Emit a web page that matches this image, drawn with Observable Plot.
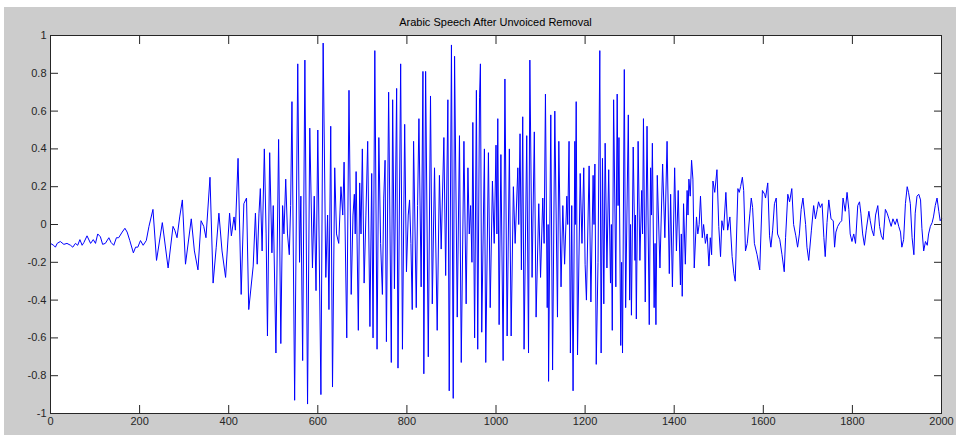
<!DOCTYPE html>
<html><head><meta charset="utf-8">
<script src="https://cdn.jsdelivr.net/npm/d3@7"></script>
<script src="https://cdn.jsdelivr.net/npm/@observablehq/plot@0.6"></script>
<style>
html,body{margin:0;padding:0;background:#fff;width:956px;height:435px;overflow:hidden;}
#fig{position:absolute;left:4px;top:7px;width:952px;height:428px;background:#cccccc;}
#chart{position:absolute;left:0;top:0;}
#title{position:absolute;left:0;width:991px;top:16px;text-align:center;font:11px "Liberation Sans",Arial,sans-serif;color:#000;white-space:nowrap;}
</style></head><body>
<div id="fig"></div><div id="chart"></div><div id="title"></div>
<script>
const chartTitle = "Arabic Speech After Unvoiced Removal";
const xTicks = [0,200,400,600,800,1000,1200,1400,1600,1800,2000];
const yTicks = [-1,-0.8,-0.6,-0.4,-0.2,0,0.2,0.4,0.6,0.8,1];

// sample index of each read-off point
const sampleIndex = [
0,7,11,15,22,30,37,45,50,56,61,66,71,75,82,90,96,101,106,112,117,123,131,136,142,148,153,161,167,172,178,186,191,196,202,208,215,221,230,238,251,264,275,279,284,290,296,303,316,323,331,338,344,349,358,365,372,378,385,393,402,406,412,415,421,428,434,440,445,455,460,464,468,471,475,
480,484,487,492,497,500,506,512,517,521,524,528,532,536,539,542,548,555,559,562,566,571,577,582,588,592,596,600,607,612,618,622,625,629,633,638,642,647,652,656,659,665,670,675,679,682,684,686,691,694,697,700,704,708,712,717,721,
724,728,733,737,741,745,748,751,754,759,765,768,772,777,780,786,790,795,799,803,806,809,812,815,821,824,827,832,836,838,842,848,853,857,862,868,873,877,883,887,892,895,900,904,907,913,918,922,928,933,937,940,943,946,948,952,956,959,963,
965,968,974,977,983,987,992,996,1000,1002,1004,1007,1011,1016,1020,1025,1030,1034,1039,1043,1049,1051,1054,1057,1060,1063,1069,1073,1076,1081,1086,1090,1096,1100,1105,1108,1111,1115,1117,1118,1123,1127,1132,1138,1141,1146,1150,1154,1159,1161,1164,1167,1170,1173,1177,1178,1180,1183,1189,1193,1197,1200,
1203,1209,1213,1218,1220,1222,1225,1229,1233,1236,1239,1242,1245,1249,1253,1257,1259,1261,1264,1269,1272,1274,1276,1280,1282,1284,1288,1291,1297,1300,1302,1304,1308,1312,1313,1315,1319,1323,1327,1329,1331,1335,1339,1344,1347,1349,1351,1355,1357,1359,1362,1368,1374,1379,1384,1389,1392,1396,1401,1405,1409,1414,1416,1418,
1421,1425,1429,1431,1433,1436,1439,1442,1445,1450,1453,1456,1459,1463,1466,1470,1474,1478,1481,1484,1487,1491,1496,1500,1504,1507,1511,1516,1520,1525,1530,1534,1537,1543,1546,1549,1553,1556,1560,1564,1570,1573,1576,1580,1586,1592,1598,1603,1605,1610,1614,1617,1621,1625,1629,1632,1637,1642,1647,1650,1655,1659,1664,1668,1673,1677,1681,1685,1689,1695,1698,1702,1708,1713,1717,1721,1724,1728,1732,1736,1739,1743,1747,1752,1757,1760,1763,1767,1772,1776,1779,1784,1788,1792,1795,1799,1803,1807,1812,1816,1819,1823,1827,1831,1837,1840,1844,1848,1852,1857,1861,1865,1869,1874,1878,1882,1887,1891,1896,1900,1904,1908,1911,1915,1919,1923,1926,1930,1934,1938,1941,1945,1949,1953,1956,1960,1964,1968,1971,1975,1979,1982,1986,1990,1994,1997,2000
];

// amplitude at each read-off point
const amplitude = [
-0.10,-0.11,-0.12,-0.10,-0.09,-0.105,-0.10,-0.11,-0.12,-0.10,-0.11,-0.08,-0.11,-0.095,-0.06,-0.10,-0.08,-0.10,-0.05,-0.065,-0.105,-0.10,-0.07,-0.095,-0.11,-0.07,-0.07,-0.04,-0.02,-0.04,-0.085,-0.15,-0.12,-0.12,-0.085,-0.11,-0.085,-0.01,0.08,-0.19,0.01,-0.23,-0.01,-0.03,-0.07,0.04,0.13,-0.21,0.03,-0.14,-0.24,0.02,-0.01,-0.07,0.25,-0.31,-0.12,0.06,-0.14,-0.28,0.06,-0.06,0.04,-0.03,0.35,-0.37,0.11,0.14,-0.45,-0.22,0.06,-0.21,0.06,0.19,-0.14,
0.40,-0.05,-0.59,0.38,-0.15,0.10,-0.68,0.45,-0.63,0.10,-0.05,0.24,-0.05,-0.16,0.10,0.65,-0.93,0.85,-0.20,0.15,-0.72,0.87,-0.95,0.51,-0.23,0.15,-0.35,0.50,-0.90,0.96,-0.28,0.05,-0.45,0.52,-0.86,0.30,-0.05,-0.10,0.20,0.05,0.33,-0.60,0.71,-0.37,0.05,0.16,-0.05,0.28,-0.56,0.22,-0.05,0.40,-0.31,0.05,0.44,-0.54,0.27,
-0.60,0.92,-0.66,0.46,-0.10,-0.37,0.14,0.34,-0.62,0.70,-0.73,0.66,-0.34,0.72,-0.76,0.85,-0.66,0.53,-0.25,0.05,0.13,-0.10,-0.45,0.44,-0.44,0.10,0.56,-0.33,0.81,-0.79,0.81,-0.70,0.68,-0.42,0.30,-0.56,0.26,-0.13,0.46,-0.27,0.66,-0.88,0.95,-0.92,0.89,-0.49,0.47,-0.73,0.44,-0.42,0.30,-0.05,0.10,-0.20,0.54,-0.60,0.71,-0.66,0.67,
0.85,-0.57,0.40,-0.73,0.38,-0.44,0.23,-0.10,0.42,-0.05,0.56,-0.53,0.37,-0.72,0.77,-0.59,0.40,-0.59,0.20,-0.10,0.30,0.0,0.48,-0.24,0.57,-0.66,0.47,-0.68,0.87,-0.28,0.49,-0.49,0.11,-0.28,0.14,-0.10,0.69,-0.44,0.0,-0.83,0.58,-0.77,0.60,-0.49,0.44,-0.33,0.10,-0.21,0.15,0.0,0.44,-0.68,0.10,-0.88,0.44,0.0,0.65,-0.69,0.27,-0.10,0.30,-0.21,
-0.40,0.31,-0.41,0.26,0.0,0.32,-0.74,-0.20,0.92,-0.68,0.35,-0.42,0.43,-0.23,0.29,-0.31,0.0,-0.56,0.66,-0.33,0.69,0.10,0.46,-0.64,-0.20,-0.68,0.82,-0.44,0.58,-0.40,0.0,-0.48,0.41,-0.19,0.05,-0.50,0.44,-0.19,0.18,-0.05,0.56,-0.41,0.52,-0.53,0.30,0.05,0.43,-0.44,-0.10,-0.53,0.26,-0.23,0.32,-0.07,0.44,-0.26,0.16,-0.33,0.30,-0.14,0.18,-0.32,-0.05,-0.38,
0.11,-0.21,0.18,0.05,0.24,0.15,0.34,0.24,-0.23,0.04,-0.05,0.0,0.15,-0.07,0.0,-0.10,-0.05,-0.22,-0.07,-0.16,0.23,0.17,0.29,-0.01,-0.17,0.02,-0.03,0.17,-0.03,0.04,-0.17,-0.26,-0.30,0.19,0.17,0.20,0.25,0.18,-0.14,-0.10,0.06,0.14,0.09,-0.10,-0.16,-0.24,0.18,0.16,0.14,0.22,-0.06,-0.12,-0.03,0.11,0.14,-0.05,-0.08,-0.16,-0.25,-0.07,0.16,0.12,0.19,0.0,-0.06,-0.12,-0.05,0.08,0.14,0.0,-0.12,-0.19,-0.03,0.10,0.03,0.08,0.12,0.09,0.11,-0.07,-0.17,0.01,0.13,0.03,0.02,-0.12,-0.04,-0.01,0.01,0.02,0.14,0.07,0.17,0.08,-0.05,-0.09,-0.05,-0.10,0.10,0.12,0.06,-0.05,-0.11,-0.03,0.07,0.02,-0.03,-0.06,0.05,0.10,-0.01,-0.06,-0.08,0.08,0.06,0.03,-0.01,0.03,0.0,0.03,-0.01,-0.04,-0.12,-0.08,0.11,0.20,0.17,0.11,-0.07,-0.16,0.06,0.15,0.16,0.13,-0.02,-0.14,-0.09,-0.11,-0.05,-0.01,0.01,0.04,0.10,0.14,0.07,0.02,0.03
];

document.getElementById("title").textContent = chartTitle;
const fmt = d => String(+d.toFixed(1));
const font = '"Liberation Sans", Arial, sans-serif';

const chart = Plot.plot({
  width: 956, height: 435,
  marginLeft: 50, marginRight: 15, marginTop: 35, marginBottom: 22,
  style: {background: "transparent", fontFamily: font, fontSize: "11px", color: "#262626", overflow: "visible"},
  x: {domain: [0, 2000]},
  y: {domain: [-1, 1]},
  marks: [
    Plot.frame({fill: "white"}),
    Plot.line(amplitude, {x: sampleIndex, y: amplitude, stroke: "#0000ff", strokeWidth: 1}),
    Plot.axisX(xTicks, {anchor: "bottom", tickSize: -8, tickPadding: 12, tickFormat: d => String(d), label: null}),
    Plot.axisX(xTicks, {anchor: "top", tickSize: -8, tickFormat: () => "", label: null}),
    Plot.axisY(yTicks, {anchor: "left", tickSize: -8, tickPadding: 12, tickFormat: fmt, label: null}),
    Plot.axisY(yTicks, {anchor: "right", tickSize: -8, tickFormat: () => "", label: null}),
    Plot.frame({stroke: "#262626"})
  ]
});
document.getElementById("chart").appendChild(chart);
</script>
</body></html>
